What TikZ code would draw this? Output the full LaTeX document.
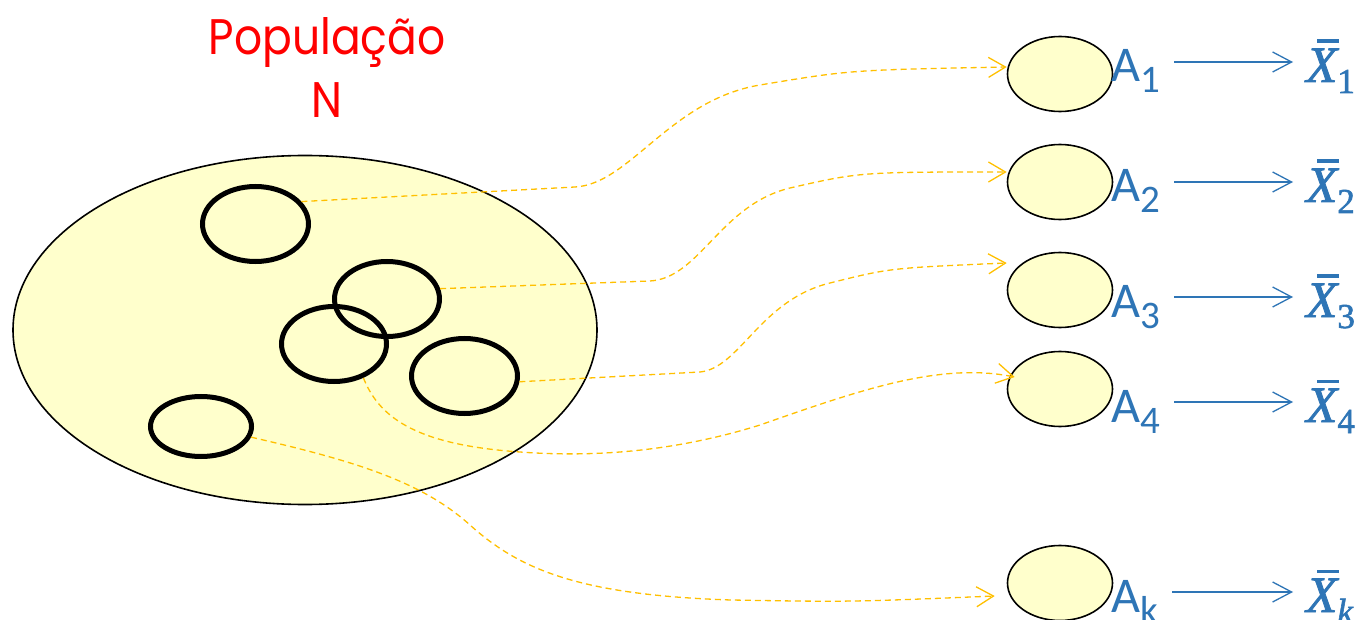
\documentclass[tikz,border=0pt]{standalone}
\usepackage{fontspec}
\newfontfamily\titlefont{Poppins}
\newfontfamily\labelfont{Carlito}
\newfontfamily\meanfont[FakeBold=1.6]{Liberation Serif}
\usetikzlibrary{shapes.geometric,arrows.meta}
\definecolor{popfill}{HTML}{FFFFCC}
\definecolor{sampleline}{HTML}{FFC000}
\definecolor{meanblue}{HTML}{2E75B6}
\definecolor{titlered}{HTML}{FF0000}
% lowered, slightly smaller index after the sample letter
\newcommand\lowsub[1]{\raisebox{-11pt}{\fontsize{39}{39}\selectfont #1}}
% sample mean: italic X with a short bar over it, and a lowered index
\newcommand\samplemean[1]{{\meanfont\itshape
  \rlap{\hskip 11pt\raisebox{39pt}{\rule{22pt}{3.5pt}}}X}%
  \raisebox{-11pt}{\meanfont\fontsize{35}{35}\selectfont #1}}

\begin{document}
\begin{tikzpicture}[x=1pt,y=-1pt,
  popellipse/.style={ellipse, draw=black, line width=1.6pt, fill=popfill, inner sep=0pt},
  samplering/.style={ellipse, draw=black, line width=5pt, inner sep=0pt},
  samplebox/.style={ellipse, draw=black, line width=1.6pt, fill=popfill, inner sep=0pt,
                    minimum width=105pt, minimum height=75pt},
  pick/.style={draw=sampleline, line width=1.3pt, dash pattern=on 6pt off 4pt,
               -{Straight Barb[length=17pt,width=20pt]}},
  meanarrow/.style={draw=meanblue, line width=1.3pt,
               -{Straight Barb[length=19pt,width=20pt]}},
  samplelabel/.style={anchor=west, inner sep=0pt, text height=40pt, text depth=0pt,
               text=meanblue, font=\labelfont\fontsize{50}{50}\selectfont},
  meanlabel/.style={anchor=west, inner sep=0pt, text height=40pt, text depth=0pt,
               text=meanblue, font=\fontsize{51}{51}\selectfont},
  titletext/.style={anchor=base, inner sep=0pt, text=titlered, xscale=0.88, transform shape,
               font=\titlefont\fontsize{50}{50}\selectfont}
]
% page
\fill[white] (0,0) rectangle (1368,620);
\path[use as bounding box] (0,0) rectangle (1368,620);

% title
\node[titletext] (title1) at (327,55) {População};
\node[titletext] (title2) at (327,118) {N};

% population and the samples drawn from it
\node[popellipse, minimum width=584pt, minimum height=349pt] (pop) at (305,330) {};
\node[samplering, minimum width=106pt, minimum height=75pt] (s1) at (255.5,224) {};
\node[samplering, minimum width=105pt, minimum height=75pt] (s2) at (387,299) {};
\node[samplering, minimum width=105pt, minimum height=75pt] (s3) at (334,344) {};
\node[samplering, minimum width=106pt, minimum height=75pt] (s4) at (464.5,376) {};
\node[samplering, minimum width=101pt, minimum height=60pt] (s5) at (201,426.5) {};

% samples A_1 ... A_k
\node[samplebox] (A1) at (1060,74) {};
\node[samplebox] (A2) at (1060,182) {};
\node[samplebox] (A3) at (1060,290) {};
\node[samplebox] (A4) at (1060,389) {};
\node[samplebox] (Ak) at (1060,583) {};

% sample names
\node[samplelabel] (la1) at (1111,62) {A\lowsub{1}};
\node[samplelabel] (la2) at (1111,182) {A\lowsub{2}};
\node[samplelabel] (la3) at (1111,297) {A\lowsub{3}};
\node[samplelabel] (la4) at (1111,402) {A\lowsub{4}};
\node[samplelabel] (lak) at (1111,592) {A\lowsub{k}};

% sample means
\node[meanlabel] (m1) at (1306,62) {\samplemean{1}};
\node[meanlabel] (m2) at (1306,182) {\samplemean{2}};
\node[meanlabel] (m3) at (1306,297) {\samplemean{3}};
\node[meanlabel] (m4) at (1306,402) {\samplemean{4}};
\node[meanlabel] (mk) at (1306,592) {\samplemean{\itshape k}};

% each sample gives its mean
\foreach \a/\b in {la1/m1,la2/m2,la3/m3,la4/m4,lak/mk}
  \draw[meanarrow] ([xshift=14pt]\a.east) -- ([xshift=-13pt]\b.west);

% each sample taken out of the population
\draw[pick] (s1.26) -- (575,187)
  .. controls (630,184) and (670,100) .. (760,85)
  .. controls (850,70) .. ([yshift=7pt]A1.west);
\draw[pick] (s2.11) -- (650,281)
  .. controls (700,278) and (720,205) .. (790,188)
  .. controls (860,172) .. ([yshift=10pt]A2.west);
\draw[pick] (s4.-6) -- (700,372)
  .. controls (740,368) and (760,300) .. (830,283)
  .. controls (890,268) .. ([yshift=27pt]A3.west);
\draw[pick] (s3.-49)
  .. controls (380,420) and (420,445) .. (520,452)
  .. controls (600,458) and (680,450) .. (760,425)
  .. controls (860,390) and (940,362) .. ([shift={(8pt,12pt)}]A4.west);
\draw[pick] (s5.-12)
  .. controls (350,460) and (420,480) .. (470,525)
  .. controls (520,570) and (580,595) .. (731,600)
  .. controls (850,602) .. ([shift={(-12pt,-13pt)}]Ak.west);
\end{tikzpicture}
\end{document}
